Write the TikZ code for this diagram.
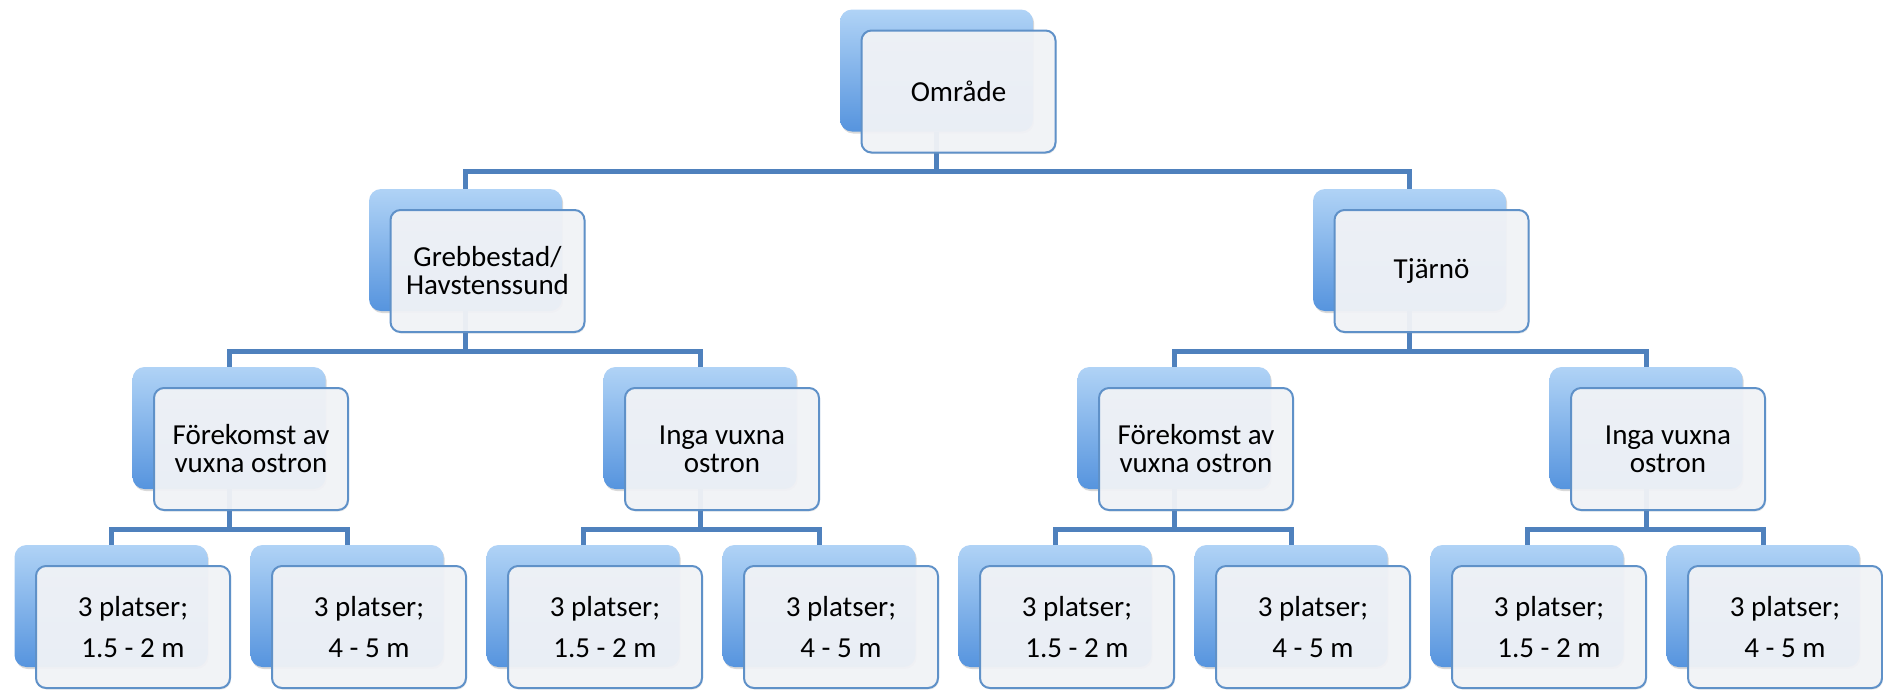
\documentclass[tikz,border=0pt]{standalone}
\usepackage{fontspec}
\setmainfont{Carlito}
\usetikzlibrary{shadows}

\definecolor{linkblue}{RGB}{79,129,189}
\definecolor{edgeblue}{RGB}{95,145,200}
\definecolor{paper}{RGB}{241,243,247}
\definecolor{tileTop}{RGB}{176,211,246}
\definecolor{tileMid}{RGB}{133,184,238}
\definecolor{tileBot}{RGB}{86,148,222}

\tikzset{
  tile/.style={rounded corners=6pt, minimum width=96.5pt, minimum height=61pt,
    inner sep=0pt, top color=tileTop, middle color=tileMid, bottom color=tileBot,
    drop shadow={shadow xshift=0.6pt, shadow yshift=-1pt, opacity=0.3}},
  card/.style={rounded corners=5pt, minimum width=97pt, minimum height=61pt,
    inner sep=2pt, draw=edgeblue, line width=1pt, fill=paper, fill opacity=0.95,
    text opacity=1, align=center, font=\fontsize{14.5}{14}\selectfont,
    drop shadow={shadow xshift=0.5pt, shadow yshift=-0.8pt, opacity=0.15}},
  leafcard/.style={card, font=\fontsize{14.5}{20.5}\selectfont},
  link/.style={draw=linkblue, line width=2.5pt},
}

\begin{document}
\begin{tikzpicture}[x=0.5pt, y=-0.5pt]
\useasboundingbox (0,0) rectangle (1883,692);

% back tiles (blue)
\node[tile] (r) at (936.5,70.5) {};
\node[tile] (g) at (465.5,250) {};
\node[tile] (t) at (1409.5,250) {};
\node[tile] (gf) at (229,428) {};
\node[tile] (gi) at (700,428) {};
\node[tile] (tf) at (1174,428) {};
\node[tile] (ti) at (1646,428) {};
\node[tile] (gf1) at (111,606) {};
\node[tile] (gf2) at (347,606) {};
\node[tile] (gi1) at (583,606) {};
\node[tile] (gi2) at (819,606) {};
\node[tile] (tf1) at (1055,606) {};
\node[tile] (tf2) at (1291,606) {};
\node[tile] (ti1) at (1527,606) {};
\node[tile] (ti2) at (1763,606) {};

% tree connectors
\foreach \p/\c in {r/g, r/t, g/gf, g/gi, t/tf, t/ti,
                   gf/gf1, gf/gf2, gi/gi1, gi/gi2,
                   tf/tf1, tf/tf2, ti/ti1, ti/ti2}
  \draw[link] (\p.south) -- ++(0,40) -| (\c.north);

% front cards with labels
\node[card] (rF) at ([shift={(22,21)}]r.center) {Område};
\node[card] (gF) at ([shift={(22,21)}]g.center) {Grebbestad/\\Havstenssund};
\node[card] (tF) at ([shift={(22,21)}]t.center) {Tjärnö};
\node[card] (gfF) at ([shift={(22,21)}]gf.center) {Förekomst av\\vuxna ostron};
\node[card] (giF) at ([shift={(22,21)}]gi.center) {Inga vuxna\\ostron};
\node[card] (tfF) at ([shift={(22,21)}]tf.center) {Förekomst av\\vuxna ostron};
\node[card] (tiF) at ([shift={(22,21)}]ti.center) {Inga vuxna\\ostron};
\node[leafcard] (gf1F) at ([shift={(22,21)}]gf1.center) {3 platser;\\1.5 - 2 m};
\node[leafcard] (gf2F) at ([shift={(22,21)}]gf2.center) {3 platser;\\4 - 5 m};
\node[leafcard] (gi1F) at ([shift={(22,21)}]gi1.center) {3 platser;\\1.5 - 2 m};
\node[leafcard] (gi2F) at ([shift={(22,21)}]gi2.center) {3 platser;\\4 - 5 m};
\node[leafcard] (tf1F) at ([shift={(22,21)}]tf1.center) {3 platser;\\1.5 - 2 m};
\node[leafcard] (tf2F) at ([shift={(22,21)}]tf2.center) {3 platser;\\4 - 5 m};
\node[leafcard] (ti1F) at ([shift={(22,21)}]ti1.center) {3 platser;\\1.5 - 2 m};
\node[leafcard] (ti2F) at ([shift={(22,21)}]ti2.center) {3 platser;\\4 - 5 m};
\end{tikzpicture}
\end{document}
